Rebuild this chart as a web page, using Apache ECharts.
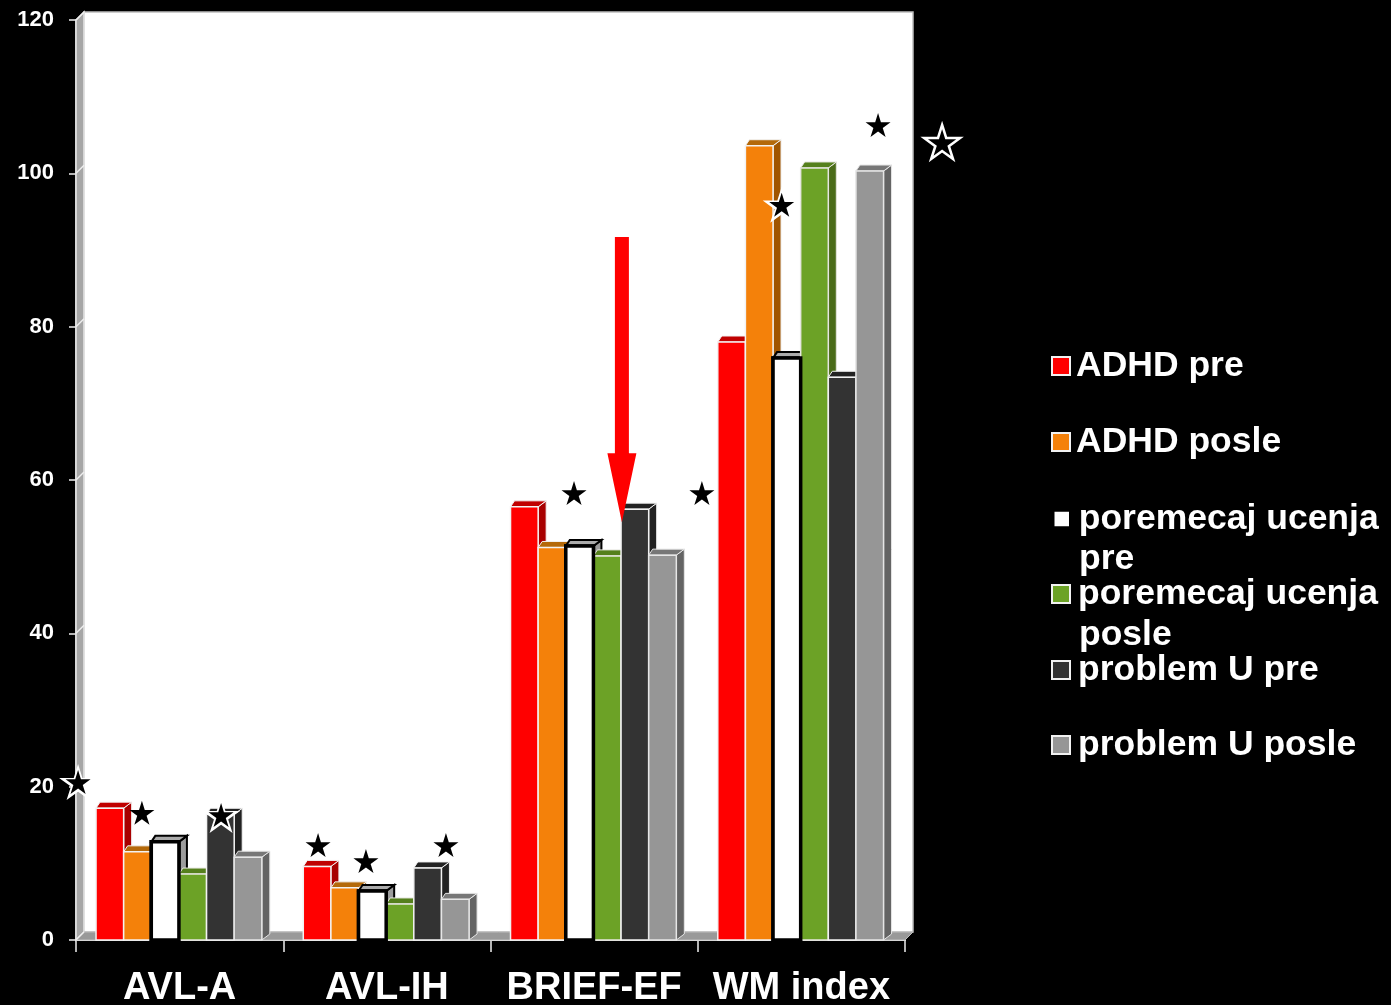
<!DOCTYPE html>
<html>
<head>
<meta charset="utf-8">
<style>html,body{margin:0;padding:0;background:#000}#c{width:1391px;height:1005px}</style>
<script src="https://cdn.jsdelivr.net/npm/echarts@6/dist/echarts.min.js"></script>
</head>
<body>
<div id="c"></div>
<script>
const categories = ['AVL-A', 'AVL-IH', 'BRIEF-EF', 'WM index'];
const yTicks = [0, 20, 40, 60, 80, 100, 120];
const adhdPre = [17.2, 9.6, 56.5, 78.0];
const adhdPosle = [11.5, 6.8, 51.2, 103.6];
const ucenjePre = [12.8, 6.4, 51.4, 75.9];
const ucenjePosle = [8.6, 4.7, 50.1, 100.7];
const problemPre = [16.4, 9.4, 56.2, 73.4];
const problemPosle = [10.8, 5.3, 50.2, 100.3];
const seriesNames = ['ADHD pre', 'ADHD posle', 'poremecaj ucenja', 'poremecaj ucenja ', 'problem U pre', 'problem U posle'];
const secondLines = ['pre', 'posle'];
// annotation positions: [category units, value]
const starsPlain = [[0.318, 16.6], [1.168, 12.4], [1.399, 10.3], [1.785, 12.4], [2.403, 58.3], [3.020, 58.3], [3.870, 106.3]];
const starsHalo = [[0.01, 20.6], [0.70, 16.3], [3.405, 95.9]];
const starsOutline = [[4.179, 104.1]];
const arrowShape = [[2.634, 91.7, 63.5, 54.5]];

const seriesValues = [adhdPre, adhdPosle, ucenjePre, ucenjePosle, problemPre, problemPosle];
const styles = [
  {front: '#FF0000', top: '#C00000', side: '#A80000', edge: '#f2f2f2', lw: 1.5},
  {front: '#F4810A', top: '#B4690A', side: '#A05500', edge: '#f2f2f2', lw: 1.5},
  {front: '#FFFFFF', top: '#ABABAB', side: '#9C9C9C', edge: '#000000', lw: 3.5},
  {front: '#6CA226', top: '#55801C', side: '#4A6B18', edge: '#e6e6e0', lw: 1.5},
  {front: '#333333', top: '#222222', side: '#222222', edge: '#f2f2f2', lw: 1.5},
  {front: '#969696', top: '#777777', side: '#646464', edge: '#e6e6e6', lw: 1.5}
];
const DX = 8, DXL = 4, DY = 6;

function barRenderer(si, frontOnly) {
  return function (params, api) {
    const st = styles[si];
    const top = api.coord([api.value(0), api.value(1)]);
    const base = api.coord([api.value(0), 0]);
    const band = api.size([1, 0])[0];
    const w = band * 0.8 / 6;
    const x0 = top[0] - band * 0.4 + si * w - 0.7, x1 = x0 + w;
    const y0 = top[1], y1 = base[1];
    const stroke = {stroke: st.edge, lineWidth: st.lw, lineJoin: 'miter'};
    const front = {type: 'rect', shape: {x: x0, y: y0, width: w, height: y1 - y0},
      style: Object.assign({fill: st.front}, stroke)};
    if (frontOnly) return front;
    const thin = st.lw > 2 ? 2 : 1;
    return {type: 'group', children: [
      {type: 'polygon', shape: {points: [[x1, y0], [x1 + DX, y0 - DY], [x1 + DX, y1 - DY], [x1, y1]]},
        style: Object.assign({fill: st.side}, stroke, {lineWidth: thin})},
      {type: 'polygon', shape: {points: [[x0, y0], [x0 + DXL, y0 - DY], [x1 + DX, y0 - DY], [x1, y0]]},
        style: Object.assign({fill: st.top}, stroke, {lineWidth: thin})},
      front
    ]};
  };
}

function wallRenderer(params, api) {
  const tl = api.coord([0, 120]), br = api.coord([4, 0]);
  const d = 8;
  const kids = [
    {type: 'rect', shape: {x: tl[0] + d, y: tl[1] - d, width: br[0] - tl[0], height: br[1] - tl[1]},
      style: {fill: '#FFFFFF', stroke: '#bdbdbd', lineWidth: 1.5}},
    {type: 'polygon', shape: {points: [[tl[0], tl[1]], [tl[0] + d, tl[1] - d], [tl[0] + d, br[1] - d], [tl[0], br[1]]]},
      style: {fill: '#A6A6A6', stroke: '#e6e6e6', lineWidth: 1.5}},
    {type: 'polygon', shape: {points: [[tl[0], br[1]], [tl[0] + d, br[1] - d], [br[0] + d, br[1] - d], [br[0], br[1]]]},
      style: {fill: '#999999', stroke: '#bdbdbd', lineWidth: 1}}
  ];
  yTicks.forEach(function (t) {
    const p = api.coord([0, t]);
    kids.push({type: 'line', shape: {x1: p[0], y1: p[1], x2: p[0] + d, y2: p[1] - d},
      style: {stroke: '#eeeeee', lineWidth: 1.5}});
  });
  return {type: 'group', children: kids};
}

function arrowRenderer(params, api) {
  const a = api.coord([api.value(0), api.value(1)]);
  const b = api.coord([api.value(0), api.value(2)]);
  const c = api.coord([api.value(0), api.value(3)]);
  const x = a[0], s = 7, h = 14.5;
  return {type: 'polygon', shape: {points: [[x - s, a[1]], [x + s, a[1]], [x + s, b[1]], [x + h, b[1]], [x, c[1]], [x - h, b[1]], [x - s, b[1]]]},
    style: {fill: '#FF0000'}};
}

const starPath = 'path://M50 0 L61 35 L98 35 L68 57 L79 91 L50 70 L21 91 L32 57 L2 35 L39 35 Z';

const series = [
  {type: 'custom', name: 'wall', xAxisIndex: 1, yAxisIndex: 0, renderItem: wallRenderer, data: [[0, 0]], clip: false, silent: true, z: 1}
];
seriesValues.forEach(function (vals, si) {
  series.push({
    type: 'custom', name: seriesNames[si], xAxisIndex: 0, yAxisIndex: 0, z: 3, clip: false,
    renderItem: barRenderer(si, false), encode: {x: 0, y: 1},
    itemStyle: {color: styles[si].front},
    data: vals.map(function (v, i) { return [i, v]; })
  });
});
series.push(
  {type: 'custom', name: 'whiteFront', xAxisIndex: 0, yAxisIndex: 0, z: 4, clip: false, silent: true,
    renderItem: barRenderer(2, true), encode: {x: 0, y: 1},
    data: ucenjePre.map(function (v, i) { return [i, v]; })},
  {type: 'custom', name: 'arrow', xAxisIndex: 1, yAxisIndex: 0, z: 5, clip: false, silent: true, renderItem: arrowRenderer, data: arrowShape},
  {type: 'scatter', name: 'halo', xAxisIndex: 1, yAxisIndex: 0, z: 6, clip: false, silent: true, symbol: starPath, symbolSize: [38, 36],
    itemStyle: {color: '#FFFFFF', opacity: 1}, data: starsHalo},
  {type: 'scatter', name: 'outline', xAxisIndex: 1, yAxisIndex: 0, z: 6, clip: false, silent: true, symbol: starPath, symbolSize: [36, 34],
    itemStyle: {color: '#000000', borderColor: '#FFFFFF', borderWidth: 2.5, opacity: 1}, data: starsOutline},
  {type: 'scatter', name: 'stars', xAxisIndex: 1, yAxisIndex: 0, z: 7, clip: false, silent: true, symbol: starPath, symbolSize: [25, 24],
    itemStyle: {color: '#000000', opacity: 1}, data: starsPlain.concat(starsHalo)}
);

const legendTops = [364, 440, 517, 592, 668, 743];
const legendFont = {color: '#FFFFFF', fontFamily: 'Liberation Sans', fontWeight: 'bold', fontSize: 35.5};
const legends = seriesNames.map(function (n, i) {
  return {
    show: true, orient: 'horizontal', left: 1051, top: legendTops[i] - 16, padding: 0,
    itemWidth: 18, itemHeight: 18, itemGap: 0, selectedMode: false,
    textStyle: Object.assign({padding: [16, 0, 0, i < 2 ? 1 : 3]}, legendFont),
    data: [{name: n, icon: 'rect',
      itemStyle: {color: styles[i].front, borderColor: i === 2 ? '#000000' : '#F2F2F2', borderWidth: i === 2 ? 3.5 : 2}}]
  };
});

const chart = echarts.init(document.getElementById('c'), null, {renderer: 'canvas'});
chart.setOption({
  animation: false,
  backgroundColor: '#000000',
  grid: {left: 76, top: 20, width: 829, height: 920, outerBoundsMode: 'none'},
  legend: legends,
  xAxis: [
    {type: 'category', data: categories, boundaryGap: true,
      axisLine: {lineStyle: {color: '#EFEFEF', width: 2}},
      axisTick: {show: true, length: 12, lineStyle: {color: '#EFEFEF', width: 1.5}},
      axisLabel: {color: '#FFFFFF', fontFamily: 'Liberation Sans', fontWeight: 'bold', fontSize: 38, margin: 30, interval: 0},
      splitLine: {show: false}},
    {type: 'value', show: false, min: 0, max: 4, splitLine: {show: false}}
  ],
  yAxis: [{
    type: 'value', min: 0, max: 120, interval: 20,
    axisLine: {show: true, lineStyle: {color: '#EFEFEF', width: 1.5}},
    axisTick: {show: true, length: 7, lineStyle: {color: '#EFEFEF', width: 1.5}},
    axisLabel: {color: '#FFFFFF', fontFamily: 'Liberation Sans', fontWeight: 'bold', fontSize: 22, margin: 22, padding: [4, 0, 0, 0]},
    splitLine: {show: false}
  }],
  graphic: secondLines.map(function (t, i) {
    return {type: 'text', left: 1079, top: [557, 633][i] - 16, z: 10, silent: true,
      style: {text: t, fill: '#FFFFFF', font: 'bold 35.5px "Liberation Sans"'}};
  }),
  series: series
});
</script>
</body>
</html>
